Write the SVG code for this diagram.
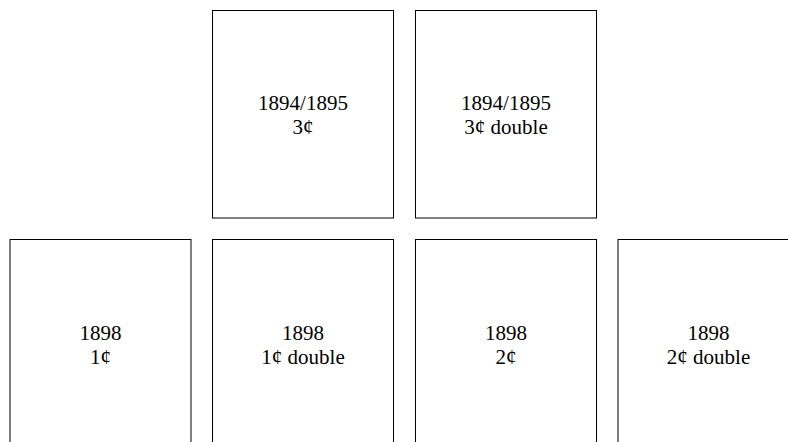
<svg xmlns="http://www.w3.org/2000/svg" width="788" height="442" viewBox="0 0 788 442">
<style>
.box{fill:#fff;stroke:#000;stroke-width:1}
.t{font-family:"Liberation Serif","Times New Roman",serif;font-size:21px;fill:#000;text-anchor:middle}
</style>
<rect width="788" height="442" fill="#fff"/>
<g id="n1894-3"><rect class="box" x="212.5" y="10.5" width="181" height="207.5"/><text class="t" x="303" y="110">1894/1895</text><text class="t" x="303" y="134">3¢</text></g>
<g id="n1894-3d"><rect class="box" x="415.5" y="10.5" width="181" height="207.5"/><text class="t" x="506" y="110">1894/1895</text><text class="t" x="506" y="134">3¢ double</text></g>
<g id="n1898-1"><rect class="box" x="10" y="239.5" width="181" height="208"/><text class="t" x="100.5" y="339.5">1898</text><text class="t" x="100.5" y="363.5">1¢</text></g>
<g id="n1898-1d"><rect class="box" x="212.5" y="239.5" width="181" height="208"/><text class="t" x="303" y="339.5">1898</text><text class="t" x="303" y="363.5">1¢ double</text></g>
<g id="n1898-2"><rect class="box" x="415.5" y="239.5" width="181" height="208"/><text class="t" x="506" y="339.5">1898</text><text class="t" x="506" y="363.5">2¢</text></g>
<g id="n1898-2d"><rect class="box" x="618" y="239.5" width="181" height="208"/><text class="t" x="708.5" y="339.5">1898</text><text class="t" x="708.5" y="363.5">2¢ double</text></g>
<g id="connectors"></g>
</svg>
